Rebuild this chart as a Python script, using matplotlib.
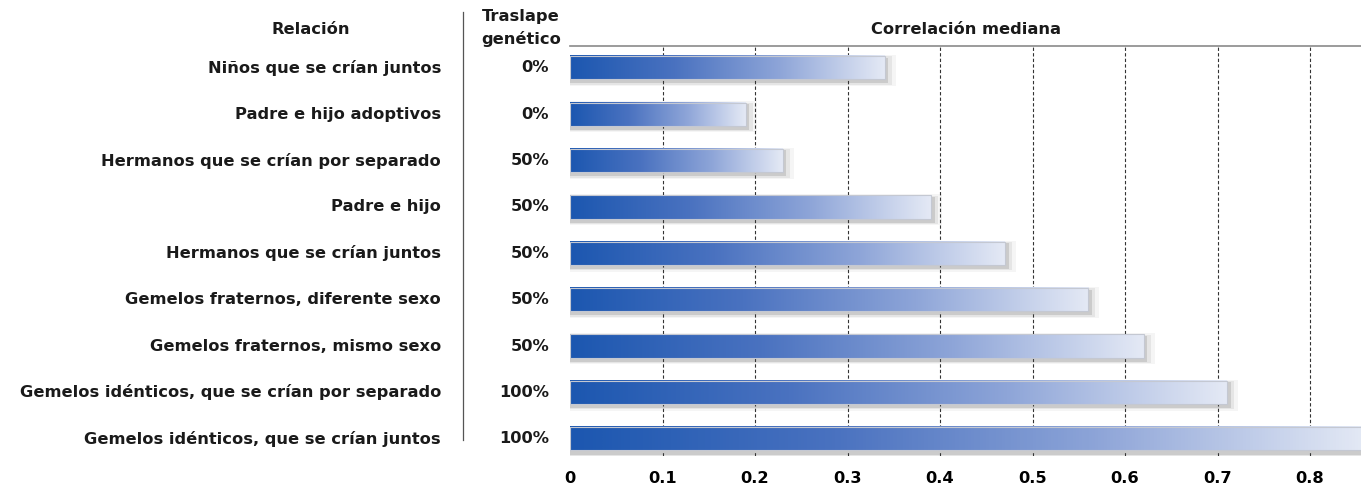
import numpy as np
import matplotlib
matplotlib.use("Agg")
import matplotlib.pyplot as plt
import matplotlib.transforms as mtransforms
from matplotlib.colors import LinearSegmentedColormap

plt.rcParams['font.family'] = ['DejaVu Sans']

relaciones = [
    "Niños que se crían juntos",
    "Padre e hijo adoptivos",
    "Hermanos que se crían por separado",
    "Padre e hijo",
    "Hermanos que se crían juntos",
    "Gemelos fraternos, diferente sexo",
    "Gemelos fraternos, mismo sexo",
    "Gemelos idénticos, que se crían por separado",
    "Gemelos idénticos, que se crían juntos",
]
traslape = ["0%", "0%", "50%", "50%", "50%", "50%", "50%", "100%", "100%"]
correlacion = [0.34, 0.19, 0.23, 0.39, 0.47, 0.56, 0.62, 0.71, 0.86]
xticks = [0, 0.1, 0.2, 0.3, 0.4, 0.5, 0.6, 0.7, 0.8]
xtick_labels = ["0", "0.1", "0.2", "0.3", "0.4", "0.5", "0.6", "0.7", "0.8"]

FS = 11.7
W, H = 1361, 487
fig = plt.figure(figsize=(W / 100, H / 100), dpi=100)
ax = fig.add_axes([570 / W, 1 - 456 / H, 1 - 570 / W, (456 - 46) / H])

n = len(correlacion)
cmap = LinearSegmentedColormap.from_list(
    "bar", ["#1c57b0", "#4a72c0", "#8ea5d8", "#e4e9f5"])
grad = np.linspace(0, 1, 256).reshape(1, -1)
bh = 0.5

# grid
for t in xticks[1:]:
    ax.axvline(t, color="#333333", lw=0.8, ls=(0, (3, 2)), zorder=1)

for i, v in enumerate(correlacion):
    # soft shadow
    for pad, a in [(0.012, 0.05), (0.008, 0.09), (0.004, 0.16)]:
        ax.barh(i + 0.06, v + pad * 1.0, left=0.0, height=bh + pad * 14,
                color="#444444", alpha=a, lw=0, zorder=2)
    ax.imshow(grad, cmap=cmap, aspect="auto", zorder=3,
              extent=[0, v, i + bh / 2, i - bh / 2], interpolation="bicubic")
    ax.barh(i, v, height=bh, facecolor="none", edgecolor="#c4c8d2", lw=0.8, zorder=4)

ax.set_xlim(0, 0.855)
ax.set_ylim(n - 1 + 0.37, -0.47)

for s in ["left", "right", "bottom"]:
    ax.spines[s].set_visible(False)
ax.spines["top"].set_color("#8a8a8a")
ax.spines["top"].set_linewidth(1.2)
ax.set_yticks([])
ax.set_xticks(xticks)
ax.set_xticklabels(xtick_labels, fontsize=FS, fontweight="bold")
ax.tick_params(axis="x", length=0, pad=11)

trans = mtransforms.blended_transform_factory(fig.transFigure, ax.transData)
for i, (r, t) in enumerate(zip(relaciones, traslape)):
    fig.text(441 / W, i, r, transform=trans, ha="right", va="center",
             fontsize=FS, fontweight="bold", color="#1a1a1a")
    fig.text(549 / W, i, t, transform=trans, ha="right", va="center",
             fontsize=FS, fontweight="bold", color="#1a1a1a")

fig.text(311 / W, 1 - 29 / H, "Relación", ha="center", va="center",
         fontsize=FS, fontweight="bold", color="#1a1a1a")
fig.text(521 / W, 1 - 17 / H, "Traslape", ha="center", va="center",
         fontsize=FS, fontweight="bold", color="#1a1a1a")
fig.text(521 / W, 1 - 39 / H, "genético", ha="center", va="center",
         fontsize=FS, fontweight="bold", color="#1a1a1a")
fig.text(966 / W, 1 - 29 / H, "Correlación mediana", ha="center", va="center",
         fontsize=FS, fontweight="bold", color="#1a1a1a")

fig.add_artist(plt.Line2D([463 / W, 463 / W], [1 - 12 / H, 1 - 440 / H],
                          transform=fig.transFigure, color="#555555", lw=0.9))

fig.savefig("out.png", dpi=100)
